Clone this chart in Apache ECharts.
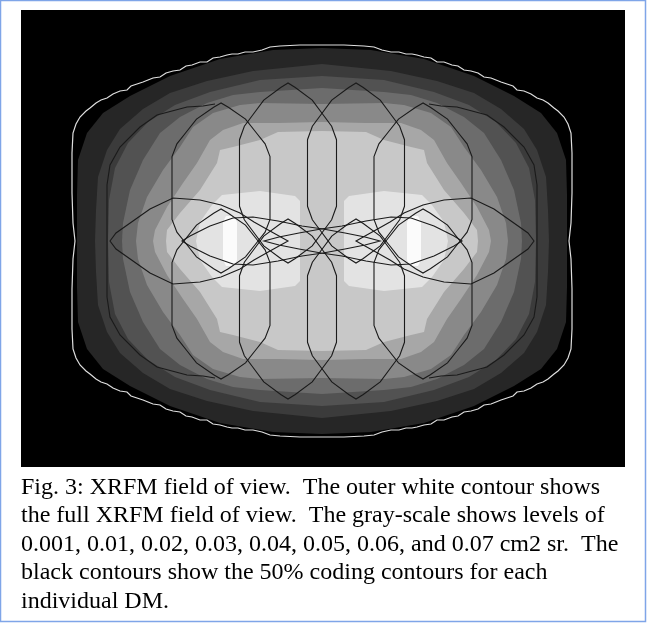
<!DOCTYPE html>
<html>
<head>
<meta charset="utf-8">
<script src="https://cdn.jsdelivr.net/npm/echarts@6/dist/echarts.min.js"></script>
<style>
html,body{margin:0;padding:0;background:#fff;}
#main{width:647px;height:623px;}
</style>
</head>
<body>
<div id="main"></div>
<script>
// sky map in degrees, centre of the XRFM field at (0,0)
// contours are given as their upper-left quarter, the map is symmetric
var fovEdge = [[0,58.8],[-6.6,58.8],[-12.6,58.5],[-15.6,58.2],[-18,57.3],[-20.7,56.7],[-23.1,56.7],[-25.2,56.1],[-27,56.1],[-28.5,55.8],[-30.6,55.2],[-32.7,54.9],[-34.5,53.7],[-36.6,53.7],[-39,52.8],[-40.8,52.5],[-42.6,51.3],[-44.7,51],[-46.8,50.4],[-48.6,49.2],[-50.7,48.9],[-52.2,48.3],[-53.7,47.7],[-55.5,47.1],[-57.3,46.5],[-58.5,45.3],[-60.6,45],[-62.7,44.1],[-64.5,42.9],[-66.3,42.3],[-67.8,41.4],[-69.6,39.9],[-70.8,39],[-72.6,37.2],[-73.8,35.1],[-74.7,32.4],[-75,26.4],[-75,14.4],[-74.7,5.4],[-74.1,0]];

var levels = ['0.001','0.01','0.02','0.03','0.04','0.05','0.06','0.07','peak'];
var levelColors = ['#262626','#3b3b3b','#525252','#6c6c6c','#898989','#a7a7a7','#c8c8c8','#e3e3e3','#fbfbfb'];
var levelQuarters = [
  [[0,57.9],[-14.7,57.3],[-30.6,54.6],[-45.6,49.5],[-57.6,43.5],[-65.7,38.4],[-70.5,32.4],[-73.2,24.3],[-73.5,13.8],[-73.5,0]],
  [[0,53.1],[-20.7,51],[-34.5,48],[-45.6,44.4],[-53.7,39.6],[-60.6,33.6],[-64.5,27.3],[-67.2,19.2],[-67.8,9.3],[-68.1,0]],
  [[0,49.5],[-18.6,48.3],[-33.6,44.7],[-44.1,40.8],[-52.2,35.7],[-58.2,29.4],[-62.1,21.9],[-63.9,12.3],[-64.2,0]],
  [[0,45.9],[-18.6,44.7],[-26.7,43.8],[-34.5,41.4],[-42.6,37.2],[-48.6,32.4],[-53.7,24.3],[-57.6,15.3],[-59.7,5.4],[-60,0]],
  [[0,41.1],[-18.6,41.4],[-24.6,40.8],[-32.7,38.4],[-38.7,34.2],[-42.6,28.2],[-47.7,21.3],[-52.5,13.2],[-55.2,5.4],[-55.8,0]],
  [[0,35.7],[-13.2,35.4],[-23.7,35.4],[-29.7,33.3],[-33.6,30.3],[-37.5,23.4],[-41.7,17.4],[-46.5,10.2],[-50.1,3.3],[-50.7,0]],
  [[0,33],[-13.2,32.7],[-18.6,30.3],[-26.7,28.2],[-30.6,27.3],[-31.5,23.4],[-36.6,15.3],[-42.6,8.4],[-46.5,3.3],[-46.8,0]],
  [[-6.6,0],[-6.6,12],[-8.1,13.5],[-18.6,15],[-30,13.8],[-33,10.8],[-36.6,5.7],[-37.8,0]],
  [[-25.5,0],[-25.5,5.7],[-26.4,7.5],[-28.8,7.5],[-29.7,5.7],[-29.7,0]]
];
// lobed levels are two islands (left and right) instead of one ring
var levelLobed = [false,false,false,false,false,false,false,true,true];

// 50% coding contours of the DMs
// tall ones: centre, half width, half height
var tallX = [-30.3,-10.2,10.2,30.3,-30.3,-10.2,10.2,30.3];
var tallY = [15.9,20.4,20.4,15.9,-15.9,-20.4,-20.4,-15.9];
var tallW = [14.7,14.55,14.55,14.7,14.7,14.55,14.55,14.7];
var tallH = [25.5,27,27,25.5,25.5,27,27,25.5];
var tallOutline = [[0,1],[0.15,0.95],[0.5,0.81],[0.72,0.65],[0.9,0.52],[1,0.37],[1,0]];
// wide ones: upper edge of the left lens, the right lens is its mirror
var outerLens = [[-63.6,0],[-61.8,2.4],[-56.7,6],[-51.6,9.6],[-44.7,12.9],[-36.6,12.3],[-30.3,10.8],[-24.6,8.4],[-20.4,5.7],[-15.6,3],[-10.2,0]];
var innerLens = [[-42,0],[-39.6,1.5],[-33.6,4.5],[-26.7,6.9],[-20.7,7.2],[-13.2,6],[-6,4.5],[0.3,3.6],[6.9,2.4],[12.9,1.2],[17.4,0]];
// outer left arc (upper half)
var outerArc = [[-32.1,41.1],[-35.7,40.5],[-40.5,40.2],[-49.5,37.8],[-54.6,34.2],[-60.6,28.2],[-63.6,22.8],[-64.5,16.8],[-64.5,0]];

var caption = [
  'Fig. 3: XRFM field of view.  The outer white contour shows',
  'the full XRFM field of view.  The gray-scale shows levels of',
  '0.001, 0.01, 0.02, 0.03, 0.04, 0.05, 0.06, and 0.07 cm2 sr.  The',
  'black contours show the 50% coding contours for each',
  'individual DM.'
];

function ring(q){
  var p = [];
  q.forEach(function(a){ p.push([a[0], a[1]]); });
  q.slice().reverse().forEach(function(a){ p.push([a[0], -a[1]]); });
  q.forEach(function(a){ p.push([-a[0], -a[1]]); });
  q.slice().reverse().forEach(function(a){ p.push([-a[0], a[1]]); });
  return p;
}
function lobe(q, side){
  var p = [];
  q.forEach(function(a){ p.push([side*a[0], a[1]]); });
  q.slice().reverse().forEach(function(a){ p.push([side*a[0], -a[1]]); });
  return p;
}

var fills = [], fillColors = [];
levelQuarters.forEach(function(q, i){
  if(levelLobed[i]){
    fills.push(lobe(q, 1)); fillColors.push(levelColors[i]);
    fills.push(lobe(q, -1)); fillColors.push(levelColors[i]);
  }else{
    fills.push(ring(q)); fillColors.push(levelColors[i]);
  }
});

var dmShapes = [];
var unit = ring(tallOutline.map(function(a){ return [-a[0], a[1]]; }));
for(var i = 0; i < tallX.length; i++){
  dmShapes.push(unit.map(function(a){
    return [tallX[i] + a[0]*tallW[i], tallY[i] + a[1]*tallH[i]];
  }));
}
dmShapes.push(lobe(outerLens, 1), lobe(outerLens, -1), lobe(innerLens, 1), lobe(innerLens, -1));

var arcs = [];
[1, -1].forEach(function(side){
  var p = outerArc.map(function(a){ return [side*a[0], a[1]]; });
  outerArc.slice(0, -1).reverse().forEach(function(a){ p.push([side*a[0], -a[1]]); });
  arcs.push(p);
});

function polySeries(list, kind, styleFn, z){
  return {
    type: 'custom',
    coordinateSystem: 'cartesian2d',
    clip: false,
    silent: true,
    z: z,
    data: list.map(function(p){ return p[0]; }),
    renderItem: function(params, api){
      var pts = list[params.dataIndex].map(function(p){ return api.coord(p); });
      return { type: kind, shape: { points: pts }, style: styleFn(params.dataIndex) };
    }
  };
}

var myChart = echarts.init(document.getElementById('main'), null, {renderer: 'canvas'});

option = {
  animation: false,
  backgroundColor: '#fff',
  grid: { left: 22, top: 11, width: 600, height: 460 },
  xAxis: { type: 'value', min: -90, max: 90, show: false },
  yAxis: { type: 'value', min: -69, max: 69, show: false },
  graphic: [
    { type: 'rect', shape: { x: 0.5, y: 0.5, width: 645, height: 621 },
      style: { fill: 'none', stroke: '#7fa5e8', lineWidth: 1.5 }, z: 0 },
    { type: 'rect', shape: { x: 21, y: 10, width: 604, height: 457 },
      style: { fill: '#000' }, z: 0 },
    { type: 'text', left: 21, top: 473, z: 5,
      style: { text: caption.join('\n'), font: '24px "Liberation Serif", "Times New Roman", serif',
               fill: '#000', lineHeight: 28.5 } }
  ],
  series: [
    polySeries([ring(fovEdge)], 'polygon', function(){ return { fill: '#000', stroke: '#dedede', lineWidth: 1.2 }; }, 2),
    polySeries(fills, 'polygon', function(i){ return { fill: fillColors[i] }; }, 3),
    polySeries(dmShapes, 'polygon', function(){ return { fill: 'none', stroke: '#1a1a1a', lineWidth: 1.1 }; }, 4),
    polySeries(arcs, 'polyline', function(){ return { fill: 'none', stroke: '#1a1a1a', lineWidth: 1.1 }; }, 4)
  ]
};

myChart.setOption(option);
</script>
</body>
</html>
